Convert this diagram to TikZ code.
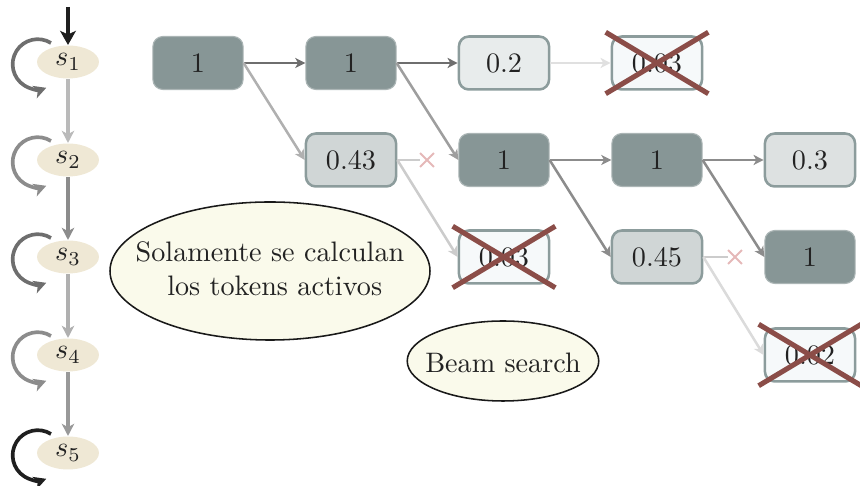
\documentclass[tikz,border=0pt]{standalone}
\usetikzlibrary{shapes.geometric,shapes.misc,arrows.meta}
\definecolor{darkbox}{HTML}{879696}
\definecolor{boxline}{HTML}{8C9C9C}
\definecolor{fillA}{HTML}{E8ECEC}
\definecolor{fillB}{HTML}{D0D6D6}
\definecolor{fillC}{HTML}{DDE1E1}
\definecolor{fillX}{HTML}{F6F9FA}
\definecolor{xred}{HTML}{8B4D48}
\definecolor{pinkx}{HTML}{E5B8B8}
\definecolor{notefill}{HTML}{FAFAEB}
\definecolor{statefill}{HTML}{EFE8D5}
\definecolor{txt}{HTML}{222222}
\newcommand{\fixedtext}[2]{\raisebox{#1}[0pt][0pt]{\makebox[0pt]{\begin{tabular}{@{}c@{}}#2\end{tabular}}}}
\tikzset{
  tip/.style={-{Stealth[length=3.6pt,width=3.6pt,inset=1pt]}},
  conn/.style={tip,line width=0.9pt},
  sconn/.style={line width=1.1pt,-{Stealth[length=4.3pt,width=4.4pt,inset=1.2pt]}},
  tok/.style={rectangle,rounded corners=3.5pt,minimum width=32pt,minimum height=18.8pt,inner sep=0pt,text=txt},
  tokdark/.style={tok,fill=darkbox,draw=darkbox!70!white,line width=0.4pt},
  toklight/.style={tok,draw=boxline,line width=0.9pt},
  state/.style={ellipse,fill=statefill,minimum width=22pt,minimum height=11.7pt,inner sep=0pt,text=txt},
  note/.style={ellipse,draw=black!90,fill=notefill,line width=0.55pt,text=txt,inner sep=0pt},
  xline/.style={draw=xred,line width=1.8pt},
  pmark/.style={cross out,draw=pinkx,minimum size=4.2pt,inner sep=0pt,line width=0.7pt},
  loopline/.style={line width=1.3pt,-{Stealth[length=4.4pt,width=4.6pt,inset=1.2pt]}},
}
\begin{document}
\begin{tikzpicture}[x=0.355pt,y=-0.355pt]
\useasboundingbox (0,0) rectangle (860,486);
% states
\node[state] (s1) at (68,62) {$s_1$};
\node[state] (s2) at (68,160) {$s_2$};
\node[state] (s3) at (68,257) {$s_3$};
\node[state] (s4) at (68,355) {$s_4$};
\node[state] (s5) at (68,453) {$s_5$};
\coordinate (in) at (68,7);
\draw[line width=1.6pt,draw=black!88,-{Stealth[length=5pt,width=5.6pt,inset=1.3pt]}] (in) -- (s1.north);
\draw[sconn,draw=black!27] (s1.south) -- (s2.north);
\draw[sconn,draw=black!45] (s2.south) -- (s3.north);
\draw[sconn,draw=black!31] (s3.south) -- (s4.north);
\draw[sconn,draw=black!40] (s4.south) -- (s5.north);
\draw[loopline,draw=black!57] ([shift={(-17,-19)}]s1.center) arc[start angle=58,end angle=290,radius=8.9pt];
\draw[loopline,draw=black!45] ([shift={(-17,-19)}]s2.center) arc[start angle=58,end angle=290,radius=8.9pt];
\draw[loopline,draw=black!57] ([shift={(-17,-19)}]s3.center) arc[start angle=58,end angle=290,radius=8.9pt];
\draw[loopline,draw=black!45] ([shift={(-17,-19)}]s4.center) arc[start angle=58,end angle=290,radius=8.9pt];
\draw[loopline,draw=black!88] ([shift={(-17,-19)}]s5.center) arc[start angle=58,end angle=290,radius=8.9pt];
% tokens
\node[tokdark] (a1) at (198,63) {1};
\node[tokdark] (b1) at (351,63) {1};
\node[toklight,fill=fillA] (c1) at (504,63) {0.2};
\node[toklight,fill=fillX] (d1) at (657,63) {0.03};
\node[toklight,fill=fillB] (b2) at (351,160) {0.43};
\node[tokdark] (c2) at (504,160) {1};
\node[tokdark] (d2) at (657,160) {1};
\node[toklight,fill=fillC] (e2) at (810,160) {0.3};
\node[toklight,fill=fillX] (c3) at (504,257) {0.03};
\node[toklight,fill=fillB] (d3) at (657,257) {0.45};
\node[tokdark] (e3) at (810,257) {1};
\node[toklight,fill=fillX] (e4) at (810,355) {0.02};
\node[pmark] (m1) at (427,160) {};
\node[pmark] (m2) at (735,257) {};
% notes
\node[note,minimum width=113.6pt,minimum height=49pt] (n1) at (270,271) {\fixedtext{-2.8pt}{Solamente se calculan\\ \ los tokens activos}};
\node[note,minimum width=68pt,minimum height=28.4pt] (n2) at (503,361) {\fixedtext{-4.2pt}{Beam search}};
% connectors
\draw[conn,draw=black!57] (a1.east) -- (b1.west);
\draw[conn,draw=black!31] (a1.east) -- (b2.west);
\draw[conn,draw=black!57] (b1.east) -- (c1.west);
\draw[conn,draw=black!38] (b1.east) -- (c2.west);
\draw[conn,draw=black!12] (c1.east) -- (d1.west);
\draw[line width=0.9pt,draw=black!20] (b2.east) -- (m1.west);
\draw[conn,draw=black!20] (b2.east) -- (c3.west);
\draw[conn,draw=black!45] (c2.east) -- (d2.west);
\draw[conn,draw=black!45] (c2.east) -- (d3.west);
\draw[conn,draw=black!45] (d2.east) -- (e2.west);
\draw[conn,draw=black!45] (d2.east) -- (e3.west);
\draw[line width=0.9pt,draw=black!20] (d3.east) -- (m2.west);
\draw[conn,draw=black!14] (d3.east) -- (e4.west);
% crosses
\foreach \n in {d1,c3,e4}{
  \draw[xline] ([shift={(-5,-3)}]\n.north west) -- ([shift={(5,3)}]\n.south east);
  \draw[xline] ([shift={(-5,3)}]\n.south west) -- ([shift={(5,-3)}]\n.north east);
}
\end{tikzpicture}
\end{document}
